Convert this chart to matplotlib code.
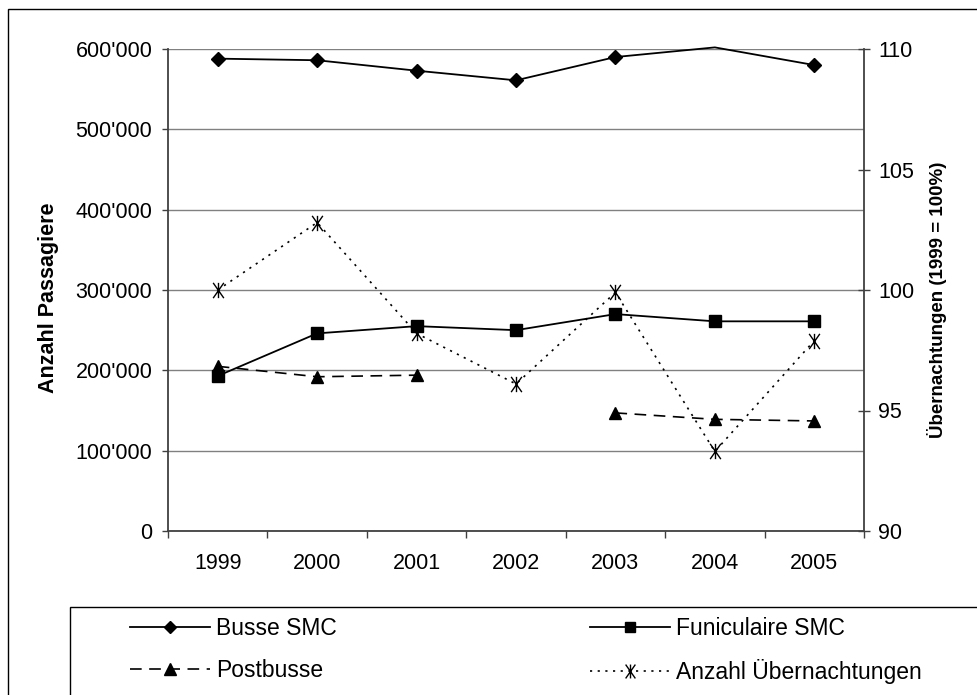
import numpy as np
import matplotlib
matplotlib.use("Agg")
import matplotlib.pyplot as plt
from matplotlib.lines import Line2D
from matplotlib.patches import Rectangle
from matplotlib.path import Path
from matplotlib.ticker import FuncFormatter

plt.rcParams['font.family'] = ['Liberation Sans', 'DejaVu Sans']

# --- data ---
years = ['1999', '2000', '2001', '2002', '2003', '2004', '2005']
busse_smc = [588000, 586000, 573000, 561000, 590000, 602000, 580000]
funiculaire_smc = [193000, 246000, 255000, 250000, 270000, 261000, 261000]
postbusse = [205000, 192000, 194000, np.nan, 147000, 139000, 137000]
uebernachtungen = [100.0, 102.8, 98.2, 96.1, 99.9, 93.3, 97.9]

W, H = 977, 695
fig = plt.figure(figsize=(W / 100, H / 100), dpi=100)

# plot area in pixel coords of the reference
px_l, px_r, px_t, px_b = 168, 864, 49, 531
ax = fig.add_axes([px_l / W, 1 - px_b / H, (px_r - px_l) / W, (px_b - px_t) / H])
ax2 = ax.twinx()

x = np.arange(len(years))
axis_col = '#404040'

# star marker like the Excel one (X with a vertical bar)
star = Path([(-0.7, -1), (0.7, 1), (-0.7, 1), (0.7, -1), (0, -1), (0, 1)],
            [Path.MOVETO, Path.LINETO, Path.MOVETO, Path.LINETO, Path.MOVETO, Path.LINETO])

# the 2004 Busse point lies above the axis max, Excel drops its marker
ax.plot(x, busse_smc, color='black', lw=1.3, marker='D', ms=7,
        markevery=[0, 1, 2, 3, 4, 6], clip_on=False, zorder=3)
ax.plot(x, funiculaire_smc, color='black', lw=1.3, marker='s', ms=8, zorder=3)
l_post, = ax.plot(x, postbusse, color='black', lw=1.2, marker='^', ms=9, zorder=3)
l_post.set_dashes((7, 4.5))
l_ueb, = ax2.plot(x, uebernachtungen, color='black', lw=1.2, marker=star, ms=11,
                  mew=1.0, zorder=3)
l_ueb.set_dashes((1.3, 3.3))

# left axis
ax.set_ylim(0, 600000)
ax.set_yticks(np.arange(0, 600001, 100000))
ax.yaxis.set_major_formatter(FuncFormatter(lambda v, p: f"{int(v):,}".replace(",", "'")))
ax.yaxis.grid(True, color='#808080', lw=1)
ax.set_axisbelow(True)
ax.tick_params(axis='y', direction='out', length=4.3, width=1, color=axis_col,
               labelsize=15.5, pad=7)

# x axis: ticks between categories, labels centred
ax.set_xlim(-0.5, len(years) - 0.5)
ax.set_xticks(np.arange(-0.5, len(years)), labels=[''] * (len(years) + 1))
ax.set_xticks(x, labels=years, minor=True)
ax.tick_params(axis='x', which='major', direction='out', length=5, width=1, color=axis_col)
ax.tick_params(axis='x', which='minor', length=0, labelsize=15.5, pad=16)

# right axis
ax2.set_ylim(90, 110)
ax2.set_yticks([90, 95, 100, 105, 110])
ax2.tick_params(axis='y', direction='inout', length=8.6, width=1, color=axis_col,
                labelsize=15.5, pad=6)

for a in (ax, ax2):
    a.spines['top'].set_visible(False)
    for s in ('left', 'bottom', 'right'):
        a.spines[s].set_color(axis_col)
        a.spines[s].set_linewidth(1.3)
ax.spines['right'].set_visible(False)
ax2.spines['left'].set_visible(False)
ax2.spines['bottom'].set_visible(False)

fig.text(49 / W, 1 - 298 / H, 'Anzahl Passagiere', rotation=90, ha='center', va='center',
         fontsize=15.5, fontweight='bold')
fig.text(937 / W, 1 - 300 / H, 'Übernachtungen (1999 = 100%)', rotation=90, ha='center',
         va='center', fontsize=13.5, fontweight='bold')

# outer chart border and legend box (both run off the right / bottom edge)
fig.patches.append(Rectangle((8 / W, -0.1), 2, 1 - 9 / H + 0.1, transform=fig.transFigure,
                             fill=False, ec='black', lw=1))
fig.patches.append(Rectangle((70 / W, -0.1), 2, 1 - 607 / H + 0.1, transform=fig.transFigure,
                             fill=False, ec='black', lw=1))

# legend, two columns placed separately
h_busse = Line2D([], [], color='black', lw=1.3, marker='D', ms=6)
h_post = Line2D([], [], color='black', lw=1.2, marker='^', ms=9, dashes=(7, 4.5))
h_fun = Line2D([], [], color='black', lw=1.3, marker='s', ms=7)
h_ueb = Line2D([], [], color='black', lw=1.2, marker=star, ms=10, mew=1.0, dashes=(1.3, 3.3))

leg_kw = dict(loc='upper left', frameon=False, fontsize=16.5, handlelength=3.5,
              handletextpad=0.26, borderpad=0, borderaxespad=0, labelspacing=0.85)
fig.legend([h_busse, h_post], ['Busse SMC', 'Postbusse'],
           bbox_to_anchor=(130 / W, 1 - 617 / H), **leg_kw)
fig.legend([h_fun, h_ueb], ['Funiculaire SMC', 'Anzahl Übernachtungen'],
           bbox_to_anchor=(590 / W, 1 - 617 / H), **leg_kw)

fig.savefig('out.png', dpi=100)
